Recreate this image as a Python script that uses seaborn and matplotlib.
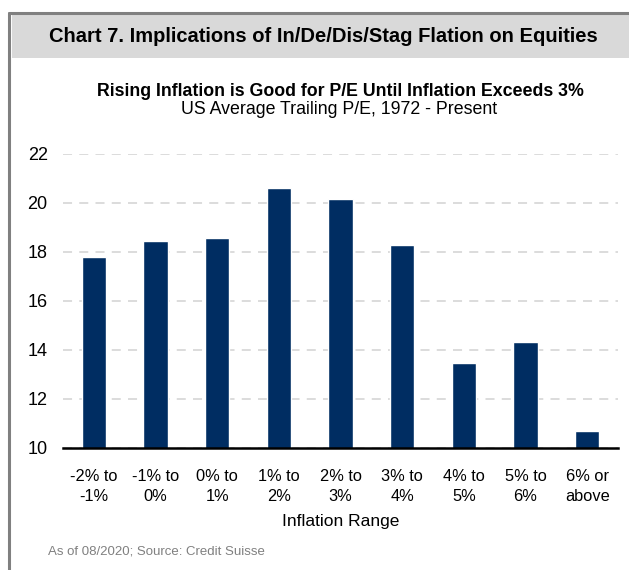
import matplotlib
matplotlib.use('Agg')

import matplotlib.pyplot as plt
import pandas as pd
import seaborn as sns

# === Data ===
categories = ["-2% to\n-1%", "-1% to\n0%", "0% to\n1%", "1% to\n2%", "2% to\n3%",
              "3% to\n4%", "4% to\n5%", "5% to\n6%", "6% or\nabove"]
pe_values = [17.8, 18.45, 18.55, 20.6, 20.15, 18.3, 13.45, 14.3, 10.7]
y_ticks = [10, 12, 14, 16, 18, 20, 22]

df = pd.DataFrame({"range": categories, "pe": pe_values})

# === Style ===
sns.set_theme(style="white")
plt.rcParams['font.family'] = ['Liberation Sans', 'DejaVu Sans']

NAVY = "#002D62"

fig = plt.figure(figsize=(6.29, 5.70), dpi=100)

# frame lines and title band
fig.add_artist(plt.Line2D([9 / 629, 1], [1 - 12.5 / 570, 1 - 12.5 / 570],
                          color="#808080", lw=2.2, transform=fig.transFigure))
fig.add_artist(plt.Line2D([9 / 629, 9 / 629], [0, 1 - 12.5 / 570],
                          color="#808080", lw=2.2, transform=fig.transFigure))
fig.add_artist(plt.Rectangle((12 / 629, 1 - 58 / 570), 1 - 12 / 629, 44 / 570,
                             facecolor="#D9D9D9", edgecolor="none",
                             transform=fig.transFigure))

fig.text(323 / 629, 1 - 37 / 570,
         "Chart 7. Implications of In/De/Dis/Stag Flation on Equities",
         ha="center", va="center", fontsize=14.5, fontweight="bold", color="black")
fig.text(340 / 629, 1 - 91 / 570,
         "Rising Inflation is Good for P/E Until Inflation Exceeds 3%",
         ha="center", va="center", fontsize=12.8, fontweight="bold", color="black")
fig.text(339 / 629, 1 - 110 / 570, "US Average Trailing P/E, 1972 - Present",
         ha="center", va="center", fontsize=12.8, color="black")
fig.text(48 / 629, 1 - 551 / 570, "As of 08/2020; Source: Credit Suisse",
         ha="left", va="center", fontsize=9.5, color="#808080")

# === Bars ===
ax = fig.add_axes([63 / 629, 1 - 447.7 / 570, (618 - 63) / 629, (447.7 - 154) / 570])
sns.barplot(data=df, x="range", y="pe", color=NAVY, width=0.39, saturation=1,
            ax=ax, zorder=3)

ax.set_ylim(10, 22)
ax.set_xlim(-0.5, len(categories) - 0.5)
ax.set_yticks(y_ticks)
ax.yaxis.grid(True, color="#D9D9D9", linestyle=(0, (5, 4)), lw=1.3, zorder=0)
ax.xaxis.grid(False)
for s in ["left", "right", "top"]:
    ax.spines[s].set_visible(False)
ax.spines["bottom"].set_color("black")
ax.spines["bottom"].set_linewidth(1.8)
ax.spines["bottom"].set_zorder(4)
ax.tick_params(axis="both", length=0, colors="black")
ax.tick_params(axis="y", pad=11, labelsize=13)
ax.tick_params(axis="x", pad=15, labelsize=11.8)
for lbl in ax.get_xticklabels():
    lbl.set_linespacing(1.45)
ax.set_ylabel("")
ax.set_xlabel("Inflation Range", fontsize=12.5, labelpad=7, color="black")

fig.savefig("out.png", dpi=100)
